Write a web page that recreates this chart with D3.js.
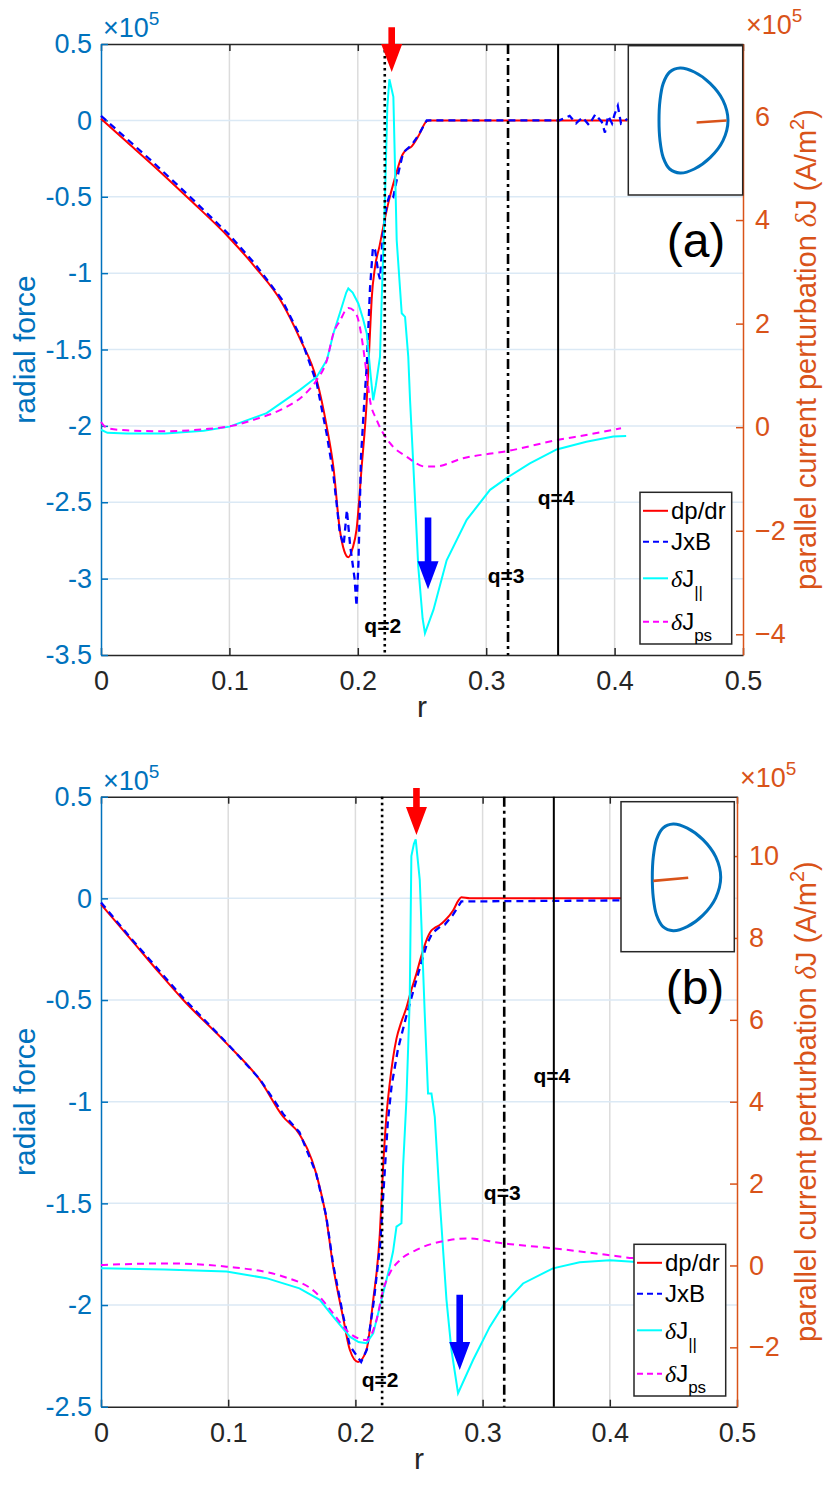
<!DOCTYPE html>
<html>
<head>
<meta charset="utf-8">
<script src="https://cdn.jsdelivr.net/npm/d3@7"></script>
<style>
  body { margin: 0; background: #fff; }
  svg text { font-family: "Liberation Sans", Arial, Helvetica, sans-serif; }
</style>
</head>
<body>
<div id="chart"></div>
<script>
// ---- data: [r, value] pairs (left axis values x1e5, right axis x1e5) ----
const dpdrA = [[0,0.01],[0.02,-0.14],[0.04,-0.29],[0.0693,-0.52],[0.1,-0.77],[0.12,-0.96],[0.1407,-1.19],[0.155,-1.43],
  [0.168,-1.70],[0.1757,-2.0],[0.181,-2.27],[0.186,-2.68],[0.1895,-2.82],[0.1926,-2.86],[0.196,-2.80],[0.199,-2.68],
  [0.203,-2.27],[0.207,-1.83],[0.2095,-1.39],[0.2108,-1.17],[0.2134,-0.96],[0.217,-0.82],[0.22,-0.69],[0.2238,-0.54],
  [0.2275,-0.42],[0.2316,-0.30],[0.2345,-0.23],[0.2368,-0.20],[0.242,-0.17],[0.247,-0.106],[0.2537,-0.005],[0.256,0],[0.41,0]];
const jxbA = [[0,0.03],[0.02,-0.12],[0.04,-0.27],[0.0693,-0.50],[0.1,-0.75],[0.12,-0.94],[0.1407,-1.17],[0.155,-1.41],
  [0.168,-1.72],[0.1757,-2.05],[0.181,-2.32],[0.186,-2.70],[0.189,-2.78],[0.1915,-2.55],[0.194,-2.78],[0.1975,-3.0],
  [0.199,-3.18],[0.2005,-2.9],[0.2025,-2.2],[0.205,-1.85],[0.207,-1.6],[0.2095,-1.1],[0.2118,-0.83],[0.2135,-0.85],
  [0.216,-1.0],[0.2173,-1.04],[0.2195,-0.75],[0.2225,-0.55],[0.2251,-0.48],[0.2277,-0.50],[0.2303,-0.39],[0.2345,-0.24],
  [0.2368,-0.20],[0.242,-0.16],[0.247,-0.10],[0.2537,0],[0.30,0],[0.357,0],[0.365,0.03],[0.37,-0.02],[0.375,0.02],
  [0.38,-0.03],[0.385,0.04],[0.39,-0.01],[0.3925,-0.08],[0.395,0.03],[0.398,-0.02],[0.40,0.04],[0.4025,0.095],
  [0.405,-0.02],[0.41,0.01]];
const djParA = [[0,-0.05],[0.005,-0.11],[0.02,-0.12],[0.05,-0.12],[0.08,-0.07],[0.1,0.01],[0.129,0.27],[0.155,0.72],
  [0.168,0.97],[0.176,1.3],[0.181,1.81],[0.186,2.2],[0.191,2.6],[0.1926,2.68],[0.196,2.6],[0.2004,2.39],[0.204,2.1],
  [0.207,1.81],[0.21,1.0],[0.212,0.52],[0.214,0.8],[0.2173,1.36],[0.2186,2.46],[0.2212,4.45],[0.223,6.19],[0.2246,6.72],
  [0.2277,6.38],[0.229,5.0],[0.2303,3.61],[0.2342,2.2],[0.2368,2.13],[0.2393,1.36],[0.2407,0.52],[0.2433,-0.76],
  [0.2471,-2.7],[0.2505,-3.7],[0.2523,-3.98],[0.2589,-3.53],[0.2692,-2.57],[0.2848,-1.79],[0.303,-1.21],[0.3172,-0.96],
  [0.334,-0.70],[0.3549,-0.43],[0.378,-0.28],[0.399,-0.18],[0.409,-0.17]];
const djPsA = [[0,0.1],[0.005,-0.02],[0.02,-0.06],[0.05,-0.08],[0.08,-0.04],[0.103,0.03],[0.12,0.15],[0.142,0.36],
  [0.158,0.62],[0.168,0.91],[0.176,1.3],[0.181,1.81],[0.186,2.05],[0.1926,2.30],[0.197,2.25],[0.2004,2.07],[0.2043,1.52],
  [0.207,1.0],[0.2095,0.52],[0.2147,0.14],[0.2251,-0.31],[0.238,-0.57],[0.2523,-0.76],[0.26,-0.76],[0.282,-0.60],
  [0.317,-0.46],[0.355,-0.25],[0.38,-0.14],[0.405,-0.02]];

const dpdrB = [[0,-0.03],[0.024,-0.205],[0.045,-0.36],[0.0647,-0.50],[0.0987,-0.713],[0.125,-0.894],[0.1432,-1.074],
  [0.156,-1.16],[0.169,-1.35],[0.177,-1.57],[0.1825,-1.81],[0.1903,-2.06],[0.1956,-2.22],[0.2021,-2.28],[0.2087,-2.22],
  [0.2139,-1.98],[0.2192,-1.65],[0.2218,-1.32],[0.2244,-1.07],[0.227,-0.91],[0.2323,-0.69],[0.236,-0.61],[0.24,-0.54],
  [0.244,-0.45],[0.248,-0.37],[0.252,-0.28],[0.2559,-0.205],[0.2595,-0.16],[0.2624,-0.145],[0.2665,-0.13],[0.2702,-0.11],
  [0.2768,-0.06],[0.281,-0.01],[0.2833,0.005],[0.29,0],[0.41,0]];
const jxbB = [[0,-0.02],[0.024,-0.20],[0.045,-0.35],[0.0647,-0.49],[0.0987,-0.71],[0.125,-0.89],[0.1432,-1.06],
  [0.156,-1.15],[0.169,-1.35],[0.177,-1.56],[0.1825,-1.80],[0.1903,-2.05],[0.1956,-2.20],[0.2045,-2.28],[0.209,-2.22],
  [0.2145,-1.98],[0.2195,-1.70],[0.2225,-1.40],[0.2255,-1.10],[0.2285,-0.92],[0.2335,-0.74],[0.24,-0.58],[0.248,-0.40],
  [0.2559,-0.23],[0.2605,-0.17],[0.2665,-0.14],[0.2702,-0.13],[0.2768,-0.08],[0.2833,-0.015],[0.29,-0.015],[0.41,-0.01]];
const djParB = [[0,-0.07],[0.05,-0.10],[0.0987,-0.15],[0.13,-0.31],[0.156,-0.56],[0.172,-0.84],[0.1825,-1.25],
  [0.1956,-1.74],[0.2025,-1.87],[0.2087,-1.9],[0.214,-1.66],[0.2218,-0.68],[0.227,-0.03],[0.2296,0.34],[0.2323,0.95],
  [0.2362,1.03],[0.2375,2.41],[0.2401,4.04],[0.2427,6.48],[0.244,10.0],[0.246,10.3],[0.2474,10.41],[0.2506,9.42],
  [0.2545,6.16],[0.2571,4.2],[0.2598,4.2],[0.2624,3.63],[0.2663,1.6],[0.2716,-0.84],[0.2755,-2.06],[0.2807,-3.12],
  [0.2925,-2.31],[0.3056,-1.50],[0.3174,-0.92],[0.3318,-0.44],[0.3553,-0.07],[0.3763,0.08],[0.40,0.13],[0.418,0.09],[0.43,0.06]];
const djPsB = [[0,0.01],[0.0516,0.05],[0.0987,-0.03],[0.143,-0.27],[0.1694,-0.68],[0.1825,-1.17],[0.1956,-1.66],
  [0.2087,-1.82],[0.2166,-1.33],[0.2218,-0.6],[0.227,-0.19],[0.235,0.13],[0.248,0.38],[0.2742,0.62],[0.2873,0.66],
  [0.316,0.54],[0.3553,0.42],[0.3973,0.26],[0.418,0.18],[0.43,0.15]];

// rational surfaces
const qR = [0.221, 0.317, 0.356];
const qLabels = ['q=2', 'q=3', 'q=4'];
const qLabelA = [-3.355, -3.03, -2.517];
const qLabelB = [-2.402, -1.484, -0.909];

// arrows: [r, top value, tip value] on the left axis
const arrowsA = [[0.2264, 0.61, 0.317], [0.2547, -2.60, -3.07]];
const arrowsB = [[0.248, 0.543, 0.312], [0.282, -1.95, -2.32]];

// ticks
const xTicks = [0, 0.1, 0.2, 0.3, 0.4, 0.5];
const yTicksA = [0.5, 0, -0.5, -1, -1.5, -2, -2.5, -3, -3.5];
const yRTicksA = [-4, -2, 0, 2, 4, 6];
const yTicksB = [0.5, 0, -0.5, -1, -1.5, -2, -2.5];
const yRTicksB = [-2, 0, 2, 4, 6, 8, 10];

// inset cross-section outline (normalised R, Z) and the chord drawn in it
const shapeX = [1, 0.855, 0.482, 0.023, -0.389, -0.690, -0.877, -0.971, -1, -0.971, -0.877, -0.690, -0.389, 0.023, 0.482, 0.855];
const shapeZ = [0, 0.582, 1.075, 1.404, 1.52, 1.404, 1.075, 0.582, 0, -0.582, -1.075, -1.404, -1.52, -1.404, -1.075, -0.582];
const chordA = [[0.09, -0.06], [0.96, 0.0]];
const chordB = [[-0.97, -0.1], [0.05, -0.01]];

const legendNames = ['dp/dr', 'JxB', 'dJpar', 'dJps'];

const BLUE_AX = '#0072BD', ORANGE_AX = '#D95319', DARK = '#262626';
const TICK_FS = 27, LABEL_FS = 30;

const svg = d3.select('#chart').append('svg')
    .attr('width', 826)
    .attr('height', 1486);

const panels = [
  { box: {l: 101, r: 743, t: 44, b: 655}, yL: [-3.5, 0.5], yR: [-4.4, 7.4],
    yTicks: yTicksA, yRTicks: yRTicksA, dp: dpdrA, jxb: jxbA, dj: djParA, dps: djPsA,
    qLab: qLabelA, arrows: arrowsA, legend: {x: 640, y: 492.3, w: 91.7, h: 151.7},
    inset: {x: 628.3, y: 45.7, w: 114.4, h: 149.3, rx: [659, 728], rz: [173, 68]},
    chord: chordA, tag: '(a)', tagPos: [696, 257] },
  { box: {l: 101, r: 737, t: 796.7, b: 1406.7}, yL: [-2.5, 0.5], yR: [-3.45, 11.45],
    yTicks: yTicksB, yRTicks: yRTicksB, dp: dpdrB, jxb: jxbB, dj: djParB, dps: djPsB,
    qLab: qLabelB, arrows: arrowsB, legend: {x: 634, y: 1244.3, w: 91.7, h: 151.7},
    inset: {x: 621, y: 801.7, w: 113.3, h: 150, rx: [652.3, 720.7], rz: [930.7, 824]},
    chord: chordB, tag: '(b)', tagPos: [695, 1004] }
];

panels.forEach(drawPanel);

function drawPanel(p) {
    const b = p.box;
    const x = d3.scaleLinear().domain([0, 0.5]).range([b.l, b.r]);
    const yL = d3.scaleLinear().domain(p.yL).range([b.b, b.t]);
    const yR = d3.scaleLinear().domain(p.yR).range([b.b, b.t]);
    const g = svg.append('g');

    // grid
    g.append('g').selectAll('line').data(xTicks.slice(1, -1)).enter().append('line')
        .attr('x1', d => x(d)).attr('x2', d => x(d)).attr('y1', b.t).attr('y2', b.b)
        .attr('stroke', '#dcdcdc').attr('stroke-width', 1.5);
    g.append('g').selectAll('line').data(p.yTicks.slice(1, -1)).enter().append('line')
        .attr('x1', b.l).attr('x2', b.r).attr('y1', d => yL(d)).attr('y2', d => yL(d))
        .attr('stroke', '#dbe9f5').attr('stroke-width', 1.5);

    // axes
    const xAxisB = d3.axisBottom(x).tickValues(xTicks).tickSizeInner(-7).tickSizeOuter(0)
        .tickFormat(d => d === 0 ? '0' : d3.format('.1f')(d)).tickPadding(16);
    const gx = g.append('g').attr('transform', `translate(0,${b.b})`).call(xAxisB);
    gx.select('.domain').attr('stroke', DARK).attr('stroke-width', 1.5);
    gx.selectAll('.tick line').attr('stroke', DARK).attr('stroke-width', 1.5);
    gx.selectAll('.tick text').attr('fill', DARK).attr('font-size', TICK_FS)
        .attr('font-family', '"Liberation Sans", Arial, sans-serif');

    const xAxisT = d3.axisTop(x).tickValues(xTicks).tickSizeInner(-7).tickSizeOuter(0).tickFormat('');
    const gxt = g.append('g').attr('transform', `translate(0,${b.t})`).call(xAxisT);
    gxt.select('.domain').attr('stroke', DARK).attr('stroke-width', 1.5);
    gxt.selectAll('.tick line').attr('stroke', DARK).attr('stroke-width', 1.5);

    const yAxisL = d3.axisLeft(yL).tickValues(p.yTicks).tickSizeInner(-7).tickSizeOuter(0)
        .tickFormat(d => String(d)).tickPadding(9);
    const gyl = g.append('g').attr('transform', `translate(${b.l},0)`).call(yAxisL);
    gyl.select('.domain').attr('stroke', BLUE_AX).attr('stroke-width', 1.5);
    gyl.selectAll('.tick line').attr('stroke', BLUE_AX).attr('stroke-width', 1.5);
    gyl.selectAll('.tick text').attr('fill', BLUE_AX).attr('font-size', TICK_FS)
        .attr('font-family', '"Liberation Sans", Arial, sans-serif');

    // data lines
    const lineL = d3.line().x(d => x(d[0])).y(d => yL(d[1]));
    const lineR = d3.line().x(d => x(d[0])).y(d => yR(d[1]));
    const smoothL = d3.line().x(d => x(d[0])).y(d => yL(d[1])).curve(d3.curveMonotoneX);
    const smoothR = d3.line().x(d => x(d[0])).y(d => yR(d[1])).curve(d3.curveMonotoneX);
    g.append('path').datum(p.dp).attr('d', smoothL).attr('fill', 'none')
        .attr('stroke', '#ff0000').attr('stroke-width', 2);
    g.append('path').datum(p.jxb).attr('d', lineL).attr('fill', 'none')
        .attr('stroke', '#0000ff').attr('stroke-width', 2.3).attr('stroke-dasharray', '7,5');
    g.append('path').datum(p.dj).attr('d', lineR).attr('fill', 'none')
        .attr('stroke', '#00ffff').attr('stroke-width', 2);
    g.append('path').datum(p.dps).attr('d', smoothR).attr('fill', 'none')
        .attr('stroke', '#ff00ff').attr('stroke-width', 2).attr('stroke-dasharray', '7,5');

    // right axis
    const yAxisR = d3.axisRight(yR).tickValues(p.yRTicks).tickSizeInner(-7).tickSizeOuter(0).tickPadding(12);
    const gyr = g.append('g').attr('transform', `translate(${b.r},0)`).call(yAxisR);
    gyr.select('.domain').attr('stroke', ORANGE_AX).attr('stroke-width', 1.5);
    gyr.selectAll('.tick line').attr('stroke', ORANGE_AX).attr('stroke-width', 1.5);
    gyr.selectAll('.tick text').attr('fill', ORANGE_AX).attr('font-size', TICK_FS)
        .attr('font-family', '"Liberation Sans", Arial, sans-serif');

    // rational surface lines
    const qDash = ['2.5,3.5', '10,4,3,4', null];
    qR.forEach((r, i) => {
        const ln = g.append('line')
            .attr('x1', x(r)).attr('x2', x(r)).attr('y1', b.t).attr('y2', b.b)
            .attr('stroke', '#000').attr('stroke-width', i === 2 ? 2 : 2.6);
        if (qDash[i]) ln.attr('stroke-dasharray', qDash[i]);
        g.append('text').attr('x', x(r) - 2).attr('y', yL(p.qLab[i]))
            .attr('text-anchor', 'middle').attr('font-size', 21).attr('font-weight', 'bold')
            .attr('fill', '#000').text(qLabels[i]);
    });

    // arrows
    const arrowColors = ['#ff0000', '#0000ff'];
    p.arrows.forEach((a, i) => {
        const cx = x(a[0]), y0 = yL(a[1]), y1 = yL(a[2]);
        const head = 28, hw = 10.5, sw = 3.3;
        const path = d3.path();
        path.moveTo(cx - sw, y0);
        path.lineTo(cx + sw, y0);
        path.lineTo(cx + sw, y1 - head);
        path.lineTo(cx + hw, y1 - head);
        path.lineTo(cx, y1);
        path.lineTo(cx - hw, y1 - head);
        path.lineTo(cx - sw, y1 - head);
        path.closePath();
        g.append('path').attr('d', path.toString()).attr('fill', arrowColors[i]);
    });

    // exponent labels
    const expL = g.append('text').attr('x', b.l + 2).attr('y', b.t - 7)
        .attr('fill', BLUE_AX).attr('font-size', 27);
    expL.append('tspan').text('\u00d710');
    expL.append('tspan').attr('dy', -12).attr('font-size', 19).text('5');
    const expR = g.append('text').attr('x', b.r + 3).attr('y', b.t - 10)
        .attr('fill', ORANGE_AX).attr('font-size', 27);
    expR.append('tspan').text('\u00d710');
    expR.append('tspan').attr('dy', -12).attr('font-size', 19).text('5');

    // axis labels
    const cy = (b.t + b.b) / 2;
    g.append('text').attr('transform', `translate(35,${cy}) rotate(-90)`)
        .attr('text-anchor', 'middle').attr('fill', BLUE_AX).attr('font-size', LABEL_FS)
        .text('radial force');
    const rl = g.append('text').attr('transform', `translate(816,${cy}) rotate(-90)`)
        .attr('text-anchor', 'middle').attr('fill', ORANGE_AX).attr('font-size', 29);
    rl.append('tspan').text('parallel current perturbation ');
    rl.append('tspan').attr('font-family', '"Liberation Serif", "DejaVu Serif", serif')
        .attr('font-style', 'italic').text('\u03b4');
    rl.append('tspan').text('J (A/m');
    rl.append('tspan').attr('dy', -12).attr('font-size', 20).text('2');
    rl.append('tspan').attr('dy', 12).text(')');
    g.append('text').attr('x', (b.l + b.r) / 2).attr('y', b.b + 62)
        .attr('text-anchor', 'middle').attr('fill', DARK).attr('font-size', LABEL_FS).text('r');

    // legend
    const lg = g.append('g').attr('transform', `translate(${p.legend.x},${p.legend.y})`);
    lg.append('rect').attr('width', p.legend.w).attr('height', p.legend.h)
        .attr('fill', '#fff').attr('stroke', DARK).attr('stroke-width', 1.5);
    const rowsY = [18.5, 49.5, 86, 129.5];
    const rowsStyle = [['#ff0000', null], ['#0000ff', '6,4'], ['#00ffff', null], ['#ff00ff', '6,4']];
    legendNames.forEach((n, i) => {
        const ln = lg.append('line').attr('x1', 3).attr('x2', 28)
            .attr('y1', rowsY[i]).attr('y2', rowsY[i])
            .attr('stroke', rowsStyle[i][0]).attr('stroke-width', 2);
        if (rowsStyle[i][1]) ln.attr('stroke-dasharray', rowsStyle[i][1]);
        const t = lg.append('text').attr('x', 31).attr('y', rowsY[i] + 8.5)
            .attr('font-size', 24).attr('fill', '#000');
        if (i < 2) {
            t.text(n);
        } else {
            t.append('tspan').attr('font-family', '"Liberation Serif", "DejaVu Serif", serif')
                .attr('font-style', 'italic').text('\u03b4');
            t.append('tspan').text('J');
            t.append('tspan').attr('dy', 11).attr('font-size', 17).text(i === 2 ? '||' : 'ps');
        }
    });

    // inset cross-section
    const ins = p.inset;
    g.append('rect').attr('x', ins.x).attr('y', ins.y).attr('width', ins.w).attr('height', ins.h)
        .attr('fill', '#fff').attr('stroke', DARK).attr('stroke-width', 1.5);
    const sx = d3.scaleLinear().domain([-1, 1]).range(ins.rx);
    const sz = d3.scaleLinear().domain([-1.52, 1.52]).range(ins.rz);
    const outline = shapeX.map((v, i) => [v, shapeZ[i]]);
    g.append('path').datum(outline)
        .attr('d', d3.line().x(d => sx(d[0])).y(d => sz(d[1])).curve(d3.curveCatmullRomClosed))
        .attr('fill', 'none').attr('stroke', BLUE_AX).attr('stroke-width', 3);
    g.append('path').datum(p.chord)
        .attr('d', d3.line().x(d => sx(d[0])).y(d => sz(d[1])))
        .attr('stroke', ORANGE_AX).attr('stroke-width', 2.6);

    g.append('text').attr('x', p.tagPos[0]).attr('y', p.tagPos[1])
        .attr('text-anchor', 'middle').attr('font-size', 48).attr('fill', '#000').text(p.tag);
}
</script>
</body>
</html>
